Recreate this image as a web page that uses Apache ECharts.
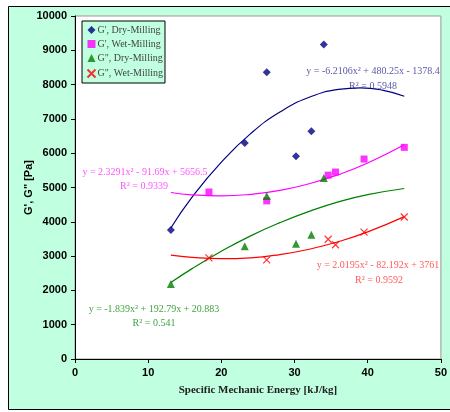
<!DOCTYPE html>
<html>
<head>
<meta charset="utf-8">
<script src="https://cdn.jsdelivr.net/npm/echarts@6/dist/echarts.min.js"></script>
<style>
  html, body { margin: 0; padding: 0; background: #ffffff; }
  #main { width: 450px; height: 412px; }
</style>
</head>
<body>
<div id="main"></div>
<script>
// 测量点
var dryGp = [[13.1, 3760], [23.2, 6300], [26.2, 8360], [30.2, 5910], [32.3, 6640], [34.0, 9170]];
var wetGp = [[18.3, 4870], [26.2, 4610], [34.6, 5360], [35.6, 5450], [39.5, 5830], [45.0, 6170]];
var dryGpp = [[13.1, 2190], [23.2, 3290], [26.2, 4750], [30.2, 3360], [32.3, 3620], [34.0, 5280]];
var wetGpp = [[18.3, 2950], [26.2, 2890], [34.6, 3490], [35.6, 3330], [39.5, 3700], [45.0, 4140]];

// 趋势线
var dryGpTrend = [[13.1, 3820], [16, 4720], [20, 5740], [24, 6570], [28, 7200], [32, 7630], [36, 7860], [39, 7905], [42, 7840], [45, 7660]];
var wetGpTrend = [[13.1, 4855], [16, 4785], [20, 4755], [24, 4800], [28, 4915], [32, 5110], [36, 5375], [40, 5715], [45, 6245]];
var dryGppTrend = [[13.1, 2230], [16, 2635], [20, 3140], [24, 3590], [28, 3975], [32, 4305], [36, 4580], [40, 4790], [45, 4970]];
var wetGppTrend = [[13.1, 3030], [16, 2965], [20, 2925], [24, 2950], [28, 3045], [32, 3200], [36, 3420], [40, 3705], [45, 4150]];

var seriesNames = ["G', Dry-Milling", "G', Wet-Milling", 'G", Dry-Milling', 'G", Wet-Milling'];
var eqTexts = [
    ['y = -6.2106x² + 480.25x - 1378.4', 'R² = 0.5948'],
    ['y = 2.3291x² - 91.69x + 5656.5', 'R² = 0.9339'],
    ['y = -1.839x² + 192.79x + 20.883', 'R² = 0.541'],
    ['y = 2.0195x² - 82.192x + 3761', 'R² = 0.9592']
];

var crossPath = 'path://M0,0 L10,10 M10,0 L0,10';
var eqFont = '10px "Liberation Serif", serif';

var myChart = echarts.init(document.getElementById('main'));

var option = {
    animation: false,
    textStyle: { fontFamily: '"Liberation Serif", serif' },
    // 外框 + 方程
    graphic: [
        {
            type: 'rect',
            z: -100,
            shape: { x: 8.5, y: 6.5, width: 460, height: 403 },
            style: { fill: '#c0ffe0', stroke: '#000', lineWidth: 1 }
        },
        { type: 'text', x: 373, y: 66, style: { text: eqTexts[0][0], fill: '#5a5aa8', font: eqFont, align: 'center' } },
        { type: 'text', x: 373, y: 81, style: { text: eqTexts[0][1], fill: '#5a5aa8', font: eqFont, align: 'center' } },
        { type: 'text', x: 145, y: 167, style: { text: eqTexts[1][0], fill: '#ff55ff', font: eqFont, align: 'center' } },
        { type: 'text', x: 144, y: 181, style: { text: eqTexts[1][1], fill: '#ff55ff', font: eqFont, align: 'center' } },
        { type: 'text', x: 154, y: 304, style: { text: eqTexts[2][0], fill: '#44a044', font: eqFont, align: 'center' } },
        { type: 'text', x: 154, y: 318, style: { text: eqTexts[2][1], fill: '#44a044', font: eqFont, align: 'center' } },
        { type: 'text', x: 378, y: 260, style: { text: eqTexts[3][0], fill: '#ff5a5a', font: eqFont, align: 'center' } },
        { type: 'text', x: 379, y: 275, style: { text: eqTexts[3][1], fill: '#ff5a5a', font: eqFont, align: 'center' } }
    ],
    legend: {
        orient: 'vertical',
        left: 82,
        top: 21,
        padding: [4, 2, 3, 3],
        itemGap: 4,
        itemWidth: 8,
        itemHeight: 8,
        backgroundColor: '#c0ffe0',
        borderColor: '#000',
        borderWidth: 1,
        borderRadius: 0,
        textStyle: { fontFamily: '"Liberation Serif", serif', fontSize: 10, color: '#444', padding: [0, 0, 0, -3] },
        data: seriesNames
    },
    grid: {
        left: 75,
        top: 16,
        width: 371,
        height: 343,
        show: true,
        backgroundColor: '#fff',
        borderColor: '#999',
        borderWidth: 1
    },
    xAxis: {
        type: 'value',
        min: 0,
        max: 50,
        interval: 10,
        name: 'Specific Mechanic Energy [kJ/kg]',
        nameLocation: 'middle',
        nameGap: 26,
        nameTextStyle: { fontFamily: '"Liberation Serif", serif', fontWeight: 'bold', fontSize: 11, color: '#222' },
        axisLine: { lineStyle: { color: '#000', width: 1 } },
        axisTick: { lineStyle: { color: '#000' }, length: 4 },
        axisLabel: { fontFamily: '"Liberation Sans", Arial', fontWeight: 'bold', fontSize: 11, color: '#000', margin: 8 },
        splitLine: { show: false }
    },
    yAxis: {
        type: 'value',
        min: 0,
        max: 10000,
        interval: 1000,
        name: 'G\', G" [Pa]',
        nameLocation: 'middle',
        nameRotate: 90,
        nameGap: 41,
        nameMoveOverlap: false,
        nameTextStyle: { fontFamily: '"Liberation Sans", Arial', fontWeight: 'bold', fontSize: 11, color: '#000' },
        axisLine: { show: true, lineStyle: { color: '#000', width: 1 } },
        axisTick: { show: true, lineStyle: { color: '#000' }, length: 4 },
        axisLabel: {
            fontFamily: '"Liberation Sans", Arial', fontWeight: 'bold', fontSize: 11, color: '#000', margin: 8,
            formatter: function (v) { return String(v); }
        },
        splitLine: { show: false }
    },
    series: [
        {
            name: 'trend1', type: 'line', data: dryGpTrend, smooth: true, showSymbol: false,
            lineStyle: { color: '#000080', width: 1.2 }, itemStyle: { color: '#000080' }, z: 2
        },
        {
            name: 'trend2', type: 'line', data: wetGpTrend, smooth: true, showSymbol: false,
            lineStyle: { color: '#ff00ff', width: 1.2 }, itemStyle: { color: '#ff00ff' }, z: 2
        },
        {
            name: 'trend3', type: 'line', data: dryGppTrend, smooth: true, showSymbol: false,
            lineStyle: { color: '#008000', width: 1.2 }, itemStyle: { color: '#008000' }, z: 2
        },
        {
            name: 'trend4', type: 'line', data: wetGppTrend, smooth: true, showSymbol: false,
            lineStyle: { color: '#ff0000', width: 1.2 }, itemStyle: { color: '#ff0000' }, z: 2
        },
        {
            name: seriesNames[0], type: 'scatter', data: dryGp, symbol: 'diamond', symbolSize: 8,
            itemStyle: { color: '#000080' }, z: 3
        },
        {
            name: seriesNames[1], type: 'scatter', data: wetGp, symbol: 'rect', symbolSize: 7,
            itemStyle: { color: '#ff00ff' }, z: 3
        },
        {
            name: seriesNames[2], type: 'scatter', data: dryGpp, symbol: 'triangle', symbolSize: 8,
            itemStyle: { color: '#008000' }, z: 3
        },
        {
            name: seriesNames[3], type: 'scatter', data: wetGpp, symbol: crossPath, symbolSize: 7,
            itemStyle: { color: 'none', borderColor: '#ff0000', borderWidth: 1.2 }, z: 3
        }
    ]
};

myChart.setOption(option);
</script>
</body>
</html>
